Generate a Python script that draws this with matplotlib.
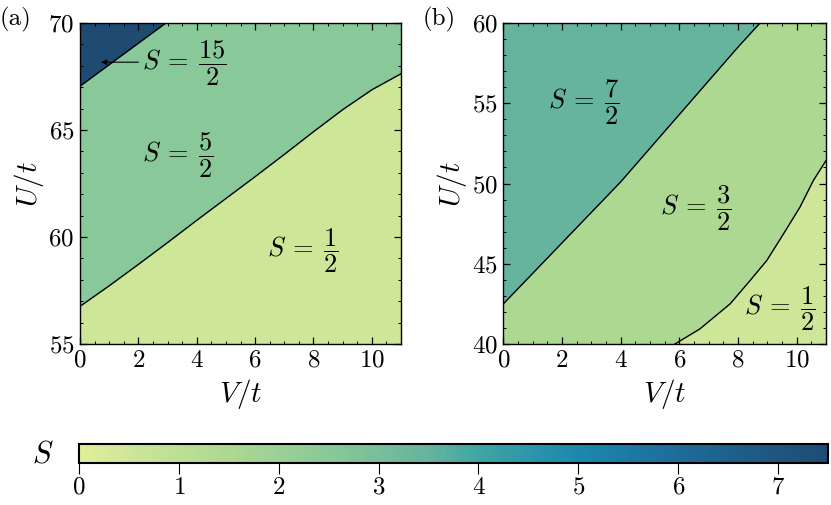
import numpy as np
import matplotlib
matplotlib.use("Agg")
import matplotlib.pyplot as plt
from matplotlib.colors import LinearSegmentedColormap, Normalize
from matplotlib.cm import ScalarMappable
from matplotlib.ticker import MultipleLocator

plt.rcParams['font.family'] = 'serif'
plt.rcParams['font.serif'] = ['cmr10']
plt.rcParams['mathtext.fontset'] = 'cm'
plt.rcParams['axes.formatter.use_mathtext'] = True

# ---------------- data ----------------
# panel (a): boundaries
xa_low = [0, 1, 2, 3, 4, 5, 6, 7, 8, 9, 10, 11]
ya_low = [56.76, 57.72, 58.72, 59.74, 60.78, 61.80, 62.82, 63.86, 64.92, 65.95, 66.88, 67.63]
xa_top = [0, 2.94]
ya_top = [67.05, 70.0]
spins_a = [0.5, 2.5, 7.5]
labels_a = [r'$S\:=\:\dfrac{1}{2}$', r'$S\:=\:\dfrac{5}{2}$', r'$S\:=\:\dfrac{15}{2}$']

# panel (b): boundaries
xb_up = [0, 1, 2, 3, 4, 5, 6, 7, 8, 8.75]
yb_up = [42.5, 44.4, 46.3, 48.2, 50.1, 52.2, 54.3, 56.4, 58.5, 60.0]
xb_low = [5.85, 6.70, 7.73, 8.41, 8.98, 9.55, 10.11, 10.57, 11.0]
yb_low = [40.0, 40.94, 42.50, 43.95, 45.20, 46.86, 48.52, 50.19, 51.43]
spins_b = [0.5, 1.5, 3.5]
labels_b = [r'$S\:=\:\dfrac{1}{2}$', r'$S\:=\:\dfrac{3}{2}$', r'$S\:=\:\dfrac{7}{2}$']

xlim = (0, 11)
ylim_a = (55, 70)
ylim_b = (40, 60)
cbar_ticks = [0, 1, 2, 3, 4, 5, 6, 7]
cbar_max = 7.5

# colormap
cm_vals = [0.0, 0.5, 1.5, 2.5, 3.5, 4.0, 5.0, 6.0, 7.5]
cm_cols = ['#e0ef98', '#cde697', '#acd892', '#89c898', '#66b49e', '#3fa5a5',
           '#1c88ae', '#1e6c9b', '#1f4b73']
cmap = LinearSegmentedColormap.from_list(
    'spin', list(zip(np.array(cm_vals) / cbar_max, cm_cols)))
norm = Normalize(0, cbar_max)

TICK = 18
fig = plt.figure(figsize=(8.31, 5.05), dpi=100)
axa = fig.add_axes([0.0963, 0.3188, 0.3863, 0.6356])
axb = fig.add_axes([0.6057, 0.3188, 0.3883, 0.6356])

def style(ax, ylim, ymajor):
    ax.set_xlim(*xlim)
    ax.set_ylim(*ylim)
    ax.xaxis.set_major_locator(MultipleLocator(2))
    ax.xaxis.set_minor_locator(MultipleLocator(0.5))
    ax.yaxis.set_major_locator(MultipleLocator(ymajor))
    ax.yaxis.set_minor_locator(MultipleLocator(1))
    ax.tick_params(which='both', direction='in', top=True, right=True, labelsize=TICK)
    ax.tick_params(which='major', length=5, width=0.9, pad=4)
    ax.tick_params(which='minor', length=2.5, width=0.7)
    ax.set_xlabel(r'$V/t$', fontsize=21, labelpad=4)
    ax.set_ylabel(r'$U/t$', fontsize=21, labelpad=2)
    for s in ax.spines.values():
        s.set_linewidth(1.0)

LBL = 19
xx = np.linspace(0, 11, 600)

# ---- panel a
low_a = np.interp(xx, xa_low, ya_low)
top_a = np.minimum(np.interp(xx, xa_top, ya_top, right=70), 70)
top_a[xx > xa_top[-1]] = 70
axa.fill_between(xx, ylim_a[0], low_a, color=cmap(norm(spins_a[0])), lw=0)
axa.fill_between(xx, low_a, top_a, color=cmap(norm(spins_a[1])), lw=0)
axa.fill_between(xx, top_a, 70, color=cmap(norm(spins_a[2])), lw=0)
axa.plot(xa_low, ya_low, color='k', lw=1.0)
axa.plot(xa_top, ya_top, color='k', lw=1.0)
style(axa, ylim_a, 5)
axa.text(7.63, 59.36, labels_a[0], fontsize=LBL, ha='center', va='center')
axa.text(3.34, 63.8, labels_a[1], fontsize=LBL, ha='center', va='center')
axa.text(3.57, 68.13, labels_a[2], fontsize=LBL, ha='center', va='center')
axa.annotate('', xy=(0.72, 68.17), xytext=(2.0, 68.17),
             arrowprops=dict(arrowstyle='-|>', color='k', lw=0.8,
                             mutation_scale=8, shrinkA=0, shrinkB=0))
fig.text(0.0, 0.962, '(a)', fontsize=18, ha='left', va='center')

# ---- panel b
up_b = np.interp(xx, xb_up, yb_up)
up_b[xx > xb_up[-1]] = 60
lo_b = np.interp(xx, xb_low, yb_low)
lo_b[xx < xb_low[0]] = 40
axb.fill_between(xx, lo_b, up_b, color=cmap(norm(spins_b[1])), lw=0)
axb.fill_between(xx, 40, lo_b, color=cmap(norm(spins_b[0])), lw=0)
axb.fill_between(xx, up_b, 60, color=cmap(norm(spins_b[2])), lw=0)
axb.plot(xb_up, yb_up, color='k', lw=1.0)
axb.plot(xb_low, yb_low, color='k', lw=1.0)
style(axb, ylim_b, 5)
axb.text(9.42, 42.18, labels_b[0], fontsize=LBL, ha='center', va='center')
axb.text(6.57, 48.42, labels_b[1], fontsize=LBL, ha='center', va='center')
axb.text(2.73, 55.07, labels_b[2], fontsize=LBL, ha='center', va='center')
fig.text(0.508, 0.962, '(b)', fontsize=18, ha='left', va='center')

# ---- colorbar
cax = fig.add_axes([0.0951, 0.0832, 0.9013, 0.0376])
sm = ScalarMappable(norm=norm, cmap=cmap)
cb = fig.colorbar(sm, cax=cax, orientation='horizontal', ticks=cbar_ticks)
cb.outline.set_linewidth(1.5)
cax.tick_params(direction='out', length=8, width=0.8, labelsize=TICK, pad=2)
fig.text(0.052, 0.10, r'$S$', fontsize=22, ha='center', va='center')

fig.savefig('out.png', dpi=100)
